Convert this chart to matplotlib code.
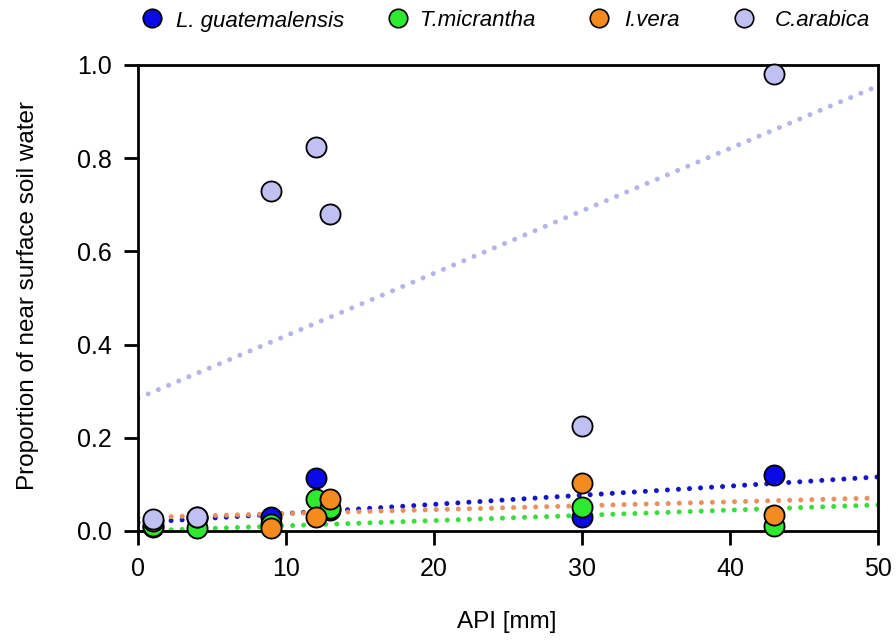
import numpy as np
import matplotlib
matplotlib.use("Agg")
import matplotlib.pyplot as plt
from matplotlib.lines import Line2D

plt.rcParams['font.family'] = ['Liberation Sans', 'DejaVu Sans']

api = [1, 4, 9, 12, 13, 30, 43]
species = ["L. guatemalensis", "T.micrantha", "I.vera", "C.arabica"]
l_guat = [0.008, 0.028, 0.030, 0.114, 0.045, 0.031, 0.120]
t_micr = [0.010, 0.006, 0.015, 0.068, 0.049, 0.052, 0.011]
i_vera = [0.022, 0.030, 0.006, 0.031, 0.068, 0.103, 0.034]
c_arab = [0.025, 0.030, 0.730, 0.825, 0.680, 0.225, 0.980]
# fitted trend lines (intercept, value at API = 50)
trend_start = [0.018, 0.000, 0.029, 0.285]
trend_end = [0.116, 0.056, 0.071, 0.955]
trend_x = [0, 50]

x_ticks = [0, 10, 20, 30, 40, 50]
y_ticks = [0.0, 0.2, 0.4, 0.6, 0.8, 1.0]

fill_colors = ["#0a0ae6", "#2eea2e", "#f58a1f", "#c0c0f2"]
line_colors = ["#1515c8", "#3add3a", "#e8915e", "#b4b4ea"]

W, H = 896, 641
fig = plt.figure(figsize=(W / 100, H / 100), dpi=100)
ax = fig.add_axes([138 / W, 1 - 531 / H, (878 - 138) / W, (531 - 65) / H])

series = [l_guat, t_micr, i_vera, c_arab]
for i, vals in enumerate(series):
    ax.plot(trend_x, [trend_start[i], trend_end[i]], color=line_colors[i],
            lw=3.6, linestyle=(0, (0.01, 2.2)), dash_capstyle='round', zorder=2)
for i, vals in enumerate(series):
    ax.scatter(api, vals, s=210, facecolor=fill_colors[i], edgecolor='black',
               linewidth=1.3, zorder=3 + i, clip_on=False)

ax.set_xlim(0, 50)
ax.set_ylim(0, 1.0)
ax.set_xticks(x_ticks)
ax.set_xticklabels([str(v) for v in x_ticks])
ax.set_yticks(y_ticks)
ax.set_yticklabels([f"{v:.1f}" for v in y_ticks])
ax.tick_params(direction='out', length=10, width=2, labelsize=18, pad=9)
for s in ax.spines.values():
    s.set_linewidth(2)

# axis titles
fig.text(507 / W, 1 - 622 / H, "API [mm]", fontsize=17.5, ha='center', va='center')
fig.text(28 / W, 1 - 296 / H, "Proportion of near surface soil water",
         fontsize=17.5, rotation=90, ha='center', va='center')

# legend row above the plot
marker_x = [152, 398, 599, 744]
text_x = [176, 420, 624, 775]
for i in range(4):
    fig.add_artist(Line2D([marker_x[i] / W], [1 - 18 / H], marker='o',
                          linestyle='none', markersize=13.3,
                          markerfacecolor=fill_colors[i],
                          markeredgecolor='black', markeredgewidth=1.2,
                          transform=fig.transFigure))
    fig.text(text_x[i] / W, 1 - 26.5 / H, species[i], fontsize=16,
             style='italic', ha='left', va='baseline')

fig.savefig("out.png", dpi=100)
